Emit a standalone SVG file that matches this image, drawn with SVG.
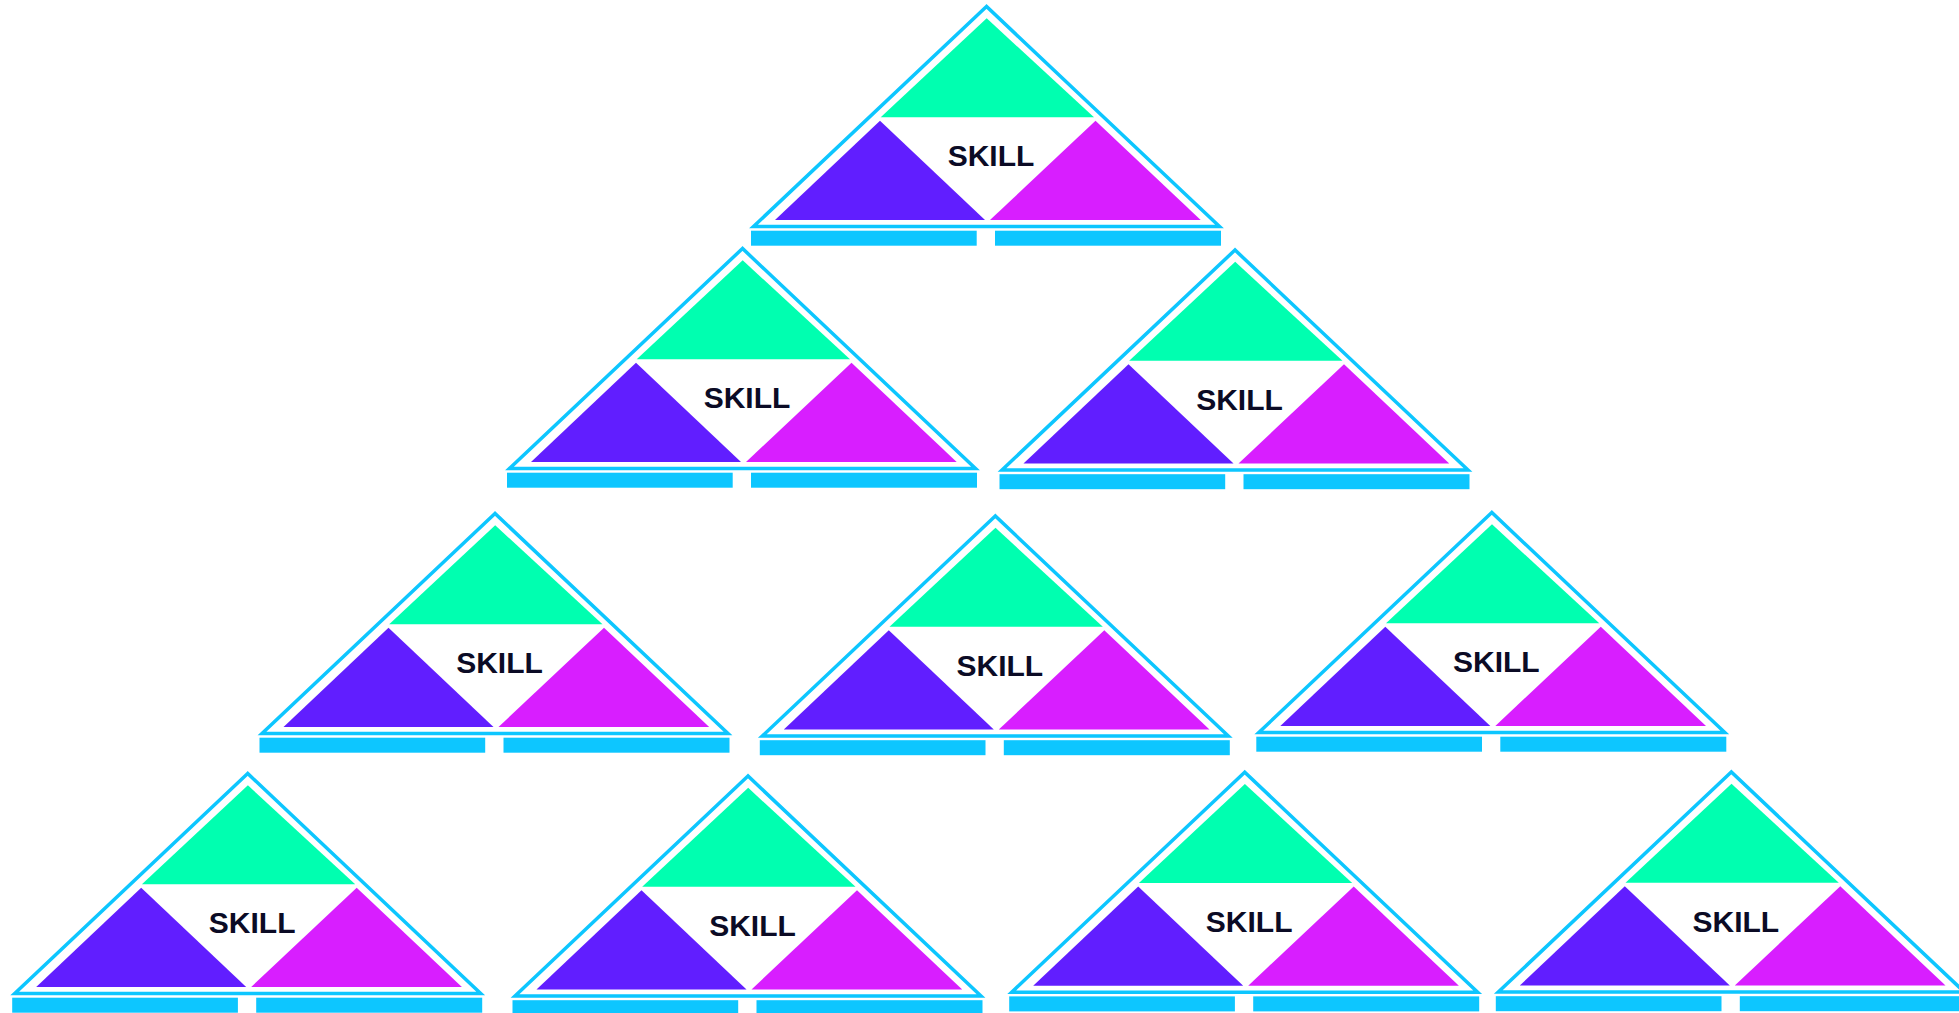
<svg xmlns="http://www.w3.org/2000/svg" xmlns:xlink="http://www.w3.org/1999/xlink" width="1959" height="1013" viewBox="0 0 1959 1013">
<style>
.outer{fill:#ffffff;stroke:#0DC6FF;stroke-width:3.5;stroke-linejoin:miter}
.bar{fill:#0DC6FF}
.g{fill:#00FFB0}
.p{fill:#611EFF}
.m{fill:#D81EFF}
.lbl{font-family:"Liberation Sans",Arial,sans-serif;font-weight:bold;font-size:30px;fill:#0B0B25;text-anchor:middle}
</style>
<defs>
<g id="shape">
<polygon class="outer" points="986.5,6.5 753.5,226.5 1219.5,226.5"/>
<polygon class="g" points="986.7,18.3 880.7,117.3 1094,117.3"/>
<polygon class="p" points="880,120.7 775,220 985,220"/>
<polygon class="m" points="1095.5,120.7 990,220 1200.7,220"/>
<rect class="bar" x="751" y="230.7" width="225.7" height="15"/>
<rect class="bar" x="995" y="230.7" width="226" height="15"/>
</g>
</defs>
<rect width="1959" height="1013" fill="#ffffff"/>
<g id="connectors"></g>
<g id="skill-1"><use href="#shape"/><text class="lbl" x="991" y="166">SKILL</text></g>
<g id="skill-2" transform="translate(-244,242)"><use href="#shape"/><text class="lbl" x="991" y="166">SKILL</text></g>
<g id="skill-3" transform="translate(248.5,243.5)"><use href="#shape"/><text class="lbl" x="991" y="166">SKILL</text></g>
<g id="skill-4" transform="translate(-491.5,507)"><use href="#shape"/><text class="lbl" x="991" y="166">SKILL</text></g>
<g id="skill-5" transform="translate(8.8,509.5)"><use href="#shape"/><text class="lbl" x="991" y="166">SKILL</text></g>
<g id="skill-6" transform="translate(505.3,506)"><use href="#shape"/><text class="lbl" x="991" y="166">SKILL</text></g>
<g id="skill-7" transform="translate(-738.8,767)"><use href="#shape"/><text class="lbl" x="991" y="166">SKILL</text></g>
<g id="skill-8" transform="translate(-238.5,769.5)"><use href="#shape"/><text class="lbl" x="991" y="166">SKILL</text></g>
<g id="skill-9" transform="translate(258.2,765.7)"><use href="#shape"/><text class="lbl" x="991" y="166">SKILL</text></g>
<g id="skill-10" transform="translate(744.8,765.5)"><use href="#shape"/><text class="lbl" x="991" y="166">SKILL</text></g>
</svg>
